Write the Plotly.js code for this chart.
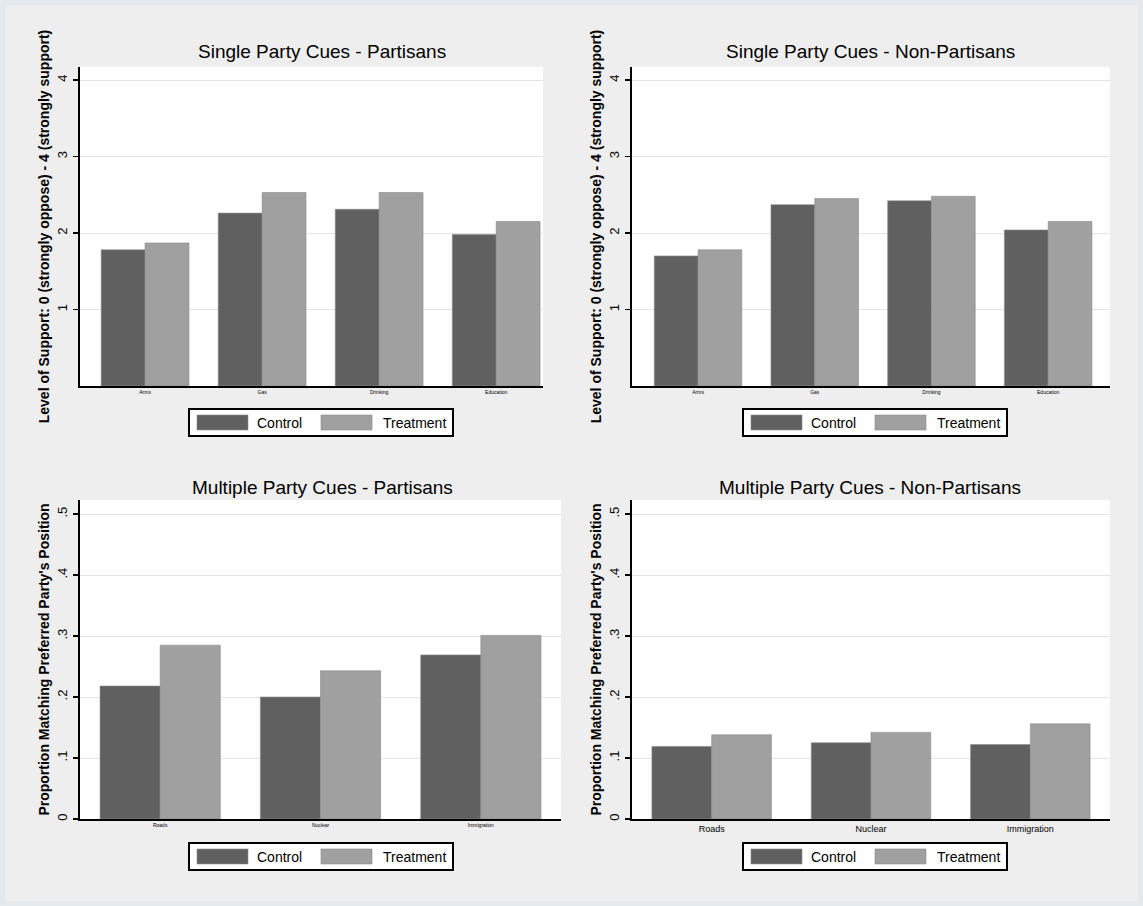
<!DOCTYPE html>
<html>
<head>
<meta charset="utf-8">
<script src="https://cdn.plot.ly/plotly-3.0.1.min.js"></script>
<style>
  html, body { margin: 0; padding: 0; background: #eef1f2; }
  #chart { width: 1143px; height: 906px; }
</style>
</head>
<body>
<div id="chart"></div>
<script>
// Single-cue issues (support scale 0-4)
const singleIssues = ["Arms", "Gas", "Drinking", "Education"];
const singlePartisanControl = [1.78, 2.26, 2.31, 1.98];
const singlePartisanTreatment = [1.87, 2.53, 2.53, 2.15];
const singleNonPartisanControl = [1.70, 2.37, 2.42, 2.04];
const singleNonPartisanTreatment = [1.78, 2.45, 2.48, 2.15];

// Multiple-cue issues (proportion matching preferred party)
const multiIssues = ["Roads", "Nuclear", "Immigration"];
const multiPartisanControl = [0.218, 0.200, 0.269];
const multiPartisanTreatment = [0.285, 0.243, 0.301];
const multiNonPartisanControl = [0.119, 0.125, 0.122];
const multiNonPartisanTreatment = [0.138, 0.142, 0.156];

const singleTicks = [1, 2, 3, 4];
const singleTickText = ["1", "2", "3", "4"];
const multiTicks = [0, 0.1, 0.2, 0.3, 0.4, 0.5];
const multiTickText = ["0", ".1", ".2", ".3", ".4", ".5"];

const seriesNames = ["Control", "Treatment"];
const controlColor = "#606060";
const treatmentColor = "#a0a0a0";

const FONT = "Liberation Sans, Arial, sans-serif";

function barTrace(x, y, name, color, xa, ya) {
  return {
    type: "bar", x: x, y: y, name: name, xaxis: xa, yaxis: ya,
    marker: { color: color, line: { color: "#8a8a8a", width: 0.6 } },
    showlegend: false, hoverinfo: "x+y+name"
  };
}

const traces = [
  barTrace(singleIssues, singlePartisanControl, seriesNames[0], controlColor, "x", "y"),
  barTrace(singleIssues, singlePartisanTreatment, seriesNames[1], treatmentColor, "x", "y"),
  barTrace(singleIssues, singleNonPartisanControl, seriesNames[0], controlColor, "x2", "y2"),
  barTrace(singleIssues, singleNonPartisanTreatment, seriesNames[1], treatmentColor, "x2", "y2"),
  barTrace(multiIssues, multiPartisanControl, seriesNames[0], controlColor, "x3", "y3"),
  barTrace(multiIssues, multiPartisanTreatment, seriesNames[1], treatmentColor, "x3", "y3"),
  barTrace(multiIssues, multiNonPartisanControl, seriesNames[0], controlColor, "x4", "y4"),
  barTrace(multiIssues, multiNonPartisanTreatment, seriesNames[1], treatmentColor, "x4", "y4")
];

const W = 1143, H = 906;
const px = v => v / W;
const py = v => 1 - v / H;

function xAxis(domain, anchor, fontSize, range) {
  const ax = {
    domain: domain, anchor: anchor,
    showline: true, linecolor: "#000", linewidth: 2,
    ticks: "", showgrid: false, zeroline: false,
    tickfont: { family: FONT, size: fontSize, color: "#000" },
    fixedrange: true
  };
  if (range) ax.range = range;
  return ax;
}
function yAxis(domain, anchor, range, tickvals, ticktext, title) {
  return {
    domain: domain, anchor: anchor, range: range,
    tickvals: tickvals, ticktext: ticktext, tickangle: -90,
    showline: true, linecolor: "#000", linewidth: 2.5,
    ticks: "outside", ticklen: 5, tickwidth: 1.5, tickcolor: "#000",
    showgrid: true, gridcolor: "#e3e3e3", gridwidth: 1, zeroline: false,
    tickfont: { family: FONT, size: 13, color: "#000" },
    title: { text: title, font: { family: FONT, size: 14, color: "#000", weight: "bold" }, standoff: 3 },
    fixedrange: true
  };
}

const supportTitle = "Level of Support: 0 (strongly oppose) - 4 (strongly support)";
const propTitle = "Proportion Matching Preferred Party's Position";

const topY = [py(386), py(67)];
const botY = [py(819), py(500)];

const layout = {
  width: W, height: H,
  margin: { l: 0, r: 0, t: 0, b: 0 },
  paper_bgcolor: "#eeeeee",
  plot_bgcolor: "#ffffff",
  barmode: "group",
  bargap: 0.25,
  bargroupgap: 0,
  showlegend: false,
  font: { family: FONT, color: "#000" },
  xaxis: xAxis([px(80), px(543)], "y", 5, [-0.556, 3.40]),
  yaxis: yAxis(topY, "x", [0, 4.17], singleTicks, singleTickText, supportTitle),
  xaxis2: xAxis([px(632), px(1110)], "y2", 5, [-0.566, 3.53]),
  yaxis2: yAxis(topY, "x2", [0, 4.17], singleTicks, singleTickText, supportTitle),
  xaxis3: xAxis([px(80), px(561)], "y3", 5),
  yaxis3: yAxis(botY, "x3", [0, 0.523], multiTicks, multiTickText, propTitle),
  xaxis4: xAxis([px(632), px(1110)], "y4", 9),
  yaxis4: yAxis(botY, "x4", [0, 0.523], multiTicks, multiTickText, propTitle),
  annotations: [],
  shapes: [
    // outer frame
    { type: "rect", xref: "paper", yref: "paper", x0: 0, x1: 1, y0: 0, y1: 1,
      line: { color: "#e3e9ec", width: 10 }, fillcolor: "rgba(0,0,0,0)", layer: "below" }
  ]
};

// panel titles
const panelTitles = [
  { text: "Single Party Cues - Partisans", x: 322, y: 52 },
  { text: "Single Party Cues - Non-Partisans", x: 870, y: 52 },
  { text: "Multiple Party Cues - Partisans", x: 322, y: 487 },
  { text: "Multiple Party Cues - Non-Partisans", x: 870, y: 487 }
];
panelTitles.forEach(t => layout.annotations.push({
  xref: "paper", yref: "paper", x: px(t.x), y: py(t.y),
  xanchor: "center", yanchor: "middle", showarrow: false,
  text: t.text, font: { family: FONT, size: 19, color: "#000" }
}));

// per-panel key boxes
const keyBoxes = [
  { left: 189, top: 409 }, { left: 743, top: 409 },
  { left: 189, top: 843 }, { left: 743, top: 843 }
];
keyBoxes.forEach(b => {
  const w = 264, h = 27;
  layout.shapes.push({
    type: "rect", xref: "paper", yref: "paper",
    x0: px(b.left), x1: px(b.left + w), y0: py(b.top + h), y1: py(b.top),
    fillcolor: "#ffffff", line: { color: "#000", width: 2 }
  });
  const items = [
    { color: controlColor, label: seriesNames[0], sx: 8, tx: 66 },
    { color: treatmentColor, label: seriesNames[1], sx: 132, tx: 192 }
  ];
  items.forEach(it => {
    layout.shapes.push({
      type: "rect", xref: "paper", yref: "paper",
      x0: px(b.left + it.sx), x1: px(b.left + it.sx + 51),
      y0: py(b.top + 21), y1: py(b.top + 6),
      fillcolor: it.color, line: { color: "#8a8a8a", width: 0.6 }
    });
    layout.annotations.push({
      xref: "paper", yref: "paper", x: px(b.left + it.tx), y: py(b.top + 14),
      xanchor: "left", yanchor: "middle", showarrow: false,
      text: it.label, font: { family: FONT, size: 14, color: "#000" }
    });
  });
});

Plotly.newPlot("chart", traces, layout, { displayModeBar: false, staticPlot: true });
</script>
</body>
</html>
